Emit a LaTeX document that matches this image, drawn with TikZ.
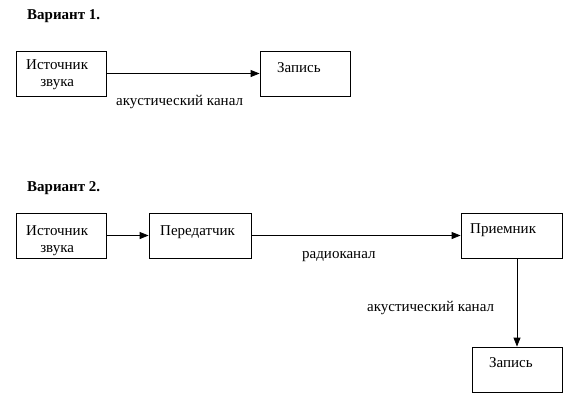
\documentclass[tikz,border=0pt]{standalone}
\usepackage{fontspec}
\setmainfont{Liberation Serif}
\usetikzlibrary{arrows.meta,positioning}
\definecolor{skInk}{HTML}{000000}
\definecolor{skPaper}{HTML}{FFFFFF}
\tikzset{
  blk/.style={draw=skInk, line width=0.8pt, minimum height=45pt, inner sep=0pt},
  txt/.style={font=\fontsize{15}{17}\selectfont, text=skInk, inner sep=0pt, align=center},
  ttl/.style={txt, font=\fontsize{15}{17}\selectfont\bfseries},
  arr/.style={-{Stealth[length=9pt, width=7pt, inset=0pt]}, line width=0.8pt, draw=skInk},
}
\begin{document}
\begin{tikzpicture}[x=1pt,y=-1pt]
  \fill[skPaper] (0,0) rectangle (584,416);
  % variant 1
  \node[ttl, anchor=west] (v1) at (27,16) {Вариант 1.};
  \node[blk, minimum width=90pt] (src1) at (61,73.5) {};
  \node[blk, minimum width=90pt] (rec1) at (305,73.5) {};
  \node[txt, anchor=north west] (src1t) at (26,59) {Источник\\звука};
  \node[txt, anchor=north west] (rec1t) at (277,62) {Запись};
  \draw[arr] (src1) -- (rec1);
  \node[txt, anchor=west] (ac1) at (116,102) {акустический канал};
  % variant 2
  \node[ttl, anchor=west] (v2) at (27,188) {Вариант 2.};
  \node[blk, minimum width=90pt] (src2) at (61,235.5) {};
  \node[blk, minimum width=102pt] (tx) at (200,235.5) {};
  \node[blk, minimum width=101pt] (rx) at (511.5,235.5) {};
  \node[blk, minimum width=90pt] (rec2) at (517,369.5) {};
  \node[txt, anchor=north west] (src2t) at (26,225) {Источник\\звука};
  \node[txt, anchor=north west] (txt) at (160,225) {Передатчик};
  \node[txt, anchor=north west] (rxt) at (470,223) {Приемник};
  \node[txt, anchor=north west] (rec2t) at (489,357) {Запись};
  \draw[arr] (src2) -- (tx);
  \draw[arr] (tx) -- (rx);
  \draw[arr] (rec2.north |- rx.south) -- (rec2.north);
  \node[txt, anchor=west] (rad) at (302,257) {радиоканал};
  \node[txt, anchor=west] (ac2) at (367,308) {акустический канал};
\end{tikzpicture}
\end{document}
